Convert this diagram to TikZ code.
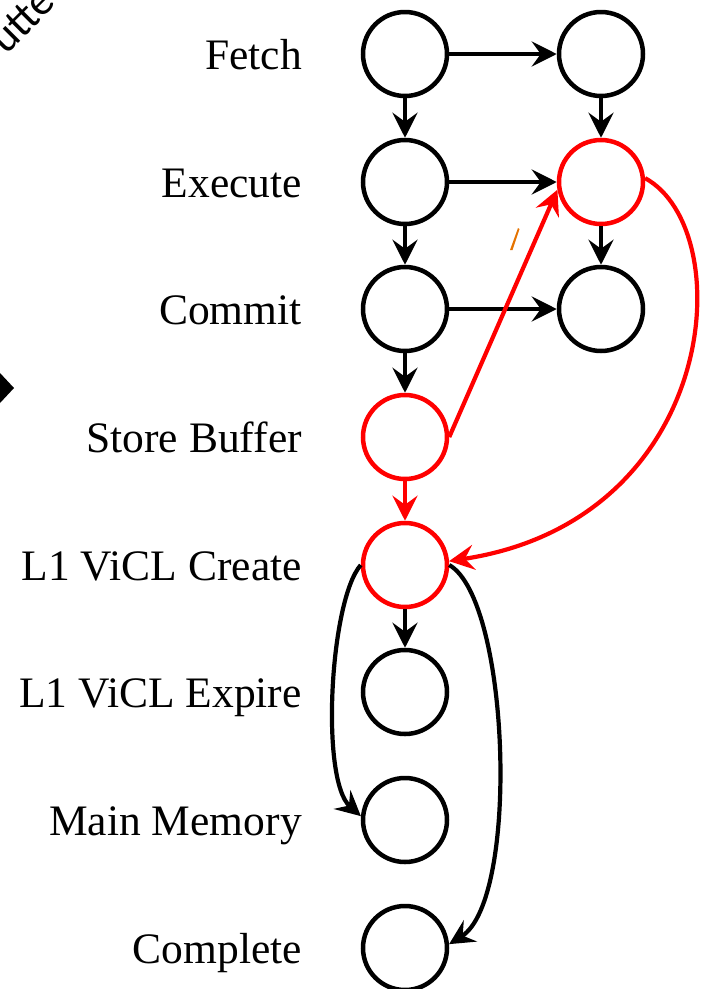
\documentclass[tikz,border=0pt]{standalone}
\usepackage{fontspec}
\setmainfont{Liberation Serif}
\newfontfamily\tagfont{Carlito}
\usetikzlibrary{arrows.meta}
\begin{document}
\begin{tikzpicture}[x=1pt,y=-1pt,
  state/.style={circle,draw,line width=4.5pt,minimum size=84pt,inner sep=0pt},
  hot/.style={draw=red},
  lbl/.style={anchor=base east,inner sep=0pt,font=\fontsize{43.5}{50}\selectfont},
  flow/.style={line width=4.2pt,-{Stealth[length=25pt,width=25pt,inset=9pt]}},
]
\useasboundingbox (0,0) rectangle (707,989);

% row labels
\node[lbl] (tF) at (302,69)  {Fetch};
\node[lbl] (tE) at (302,197) {Execute};
\node[lbl] (tC) at (302,324) {Commit};
\node[lbl] (tS) at (302,452) {Store Buffer};
\node[lbl] (tL) at (302,580) {L1 ViCL Create};
\node[lbl] (tX) at (302,707) {L1 ViCL Expire};
\node[lbl] (tM) at (302,835) {Main Memory};
\node[lbl] (tK) at (302,963) {Complete};

% left column
\node[state] (f1) at (405,54)  {};
\node[state] (e1) at (405,182) {};
\node[state] (c1) at (405,309) {};
\node[state,hot] (sb) at (405,437) {};
\node[state,hot] (lc) at (405,565) {};
\node[state] (lx) at (405,692) {};
\node[state] (mm) at (405,820) {};
\node[state] (ok) at (405,948) {};

% right column
\node[state] (f2) at (601,54)  {};
\node[state,hot] (e2) at (601,182) {};
\node[state] (c2) at (601,309) {};

% pipeline edges
\draw[flow] (f1) -- (f2);
\draw[flow] (e1) -- (e2);
\draw[flow] (c1) -- (c2);
\draw[flow] (f1) -- (e1);
\draw[flow] (e1) -- (c1);
\draw[flow] (c1) -- (sb);
\draw[flow] (f2) -- (e2);
\draw[flow] (e2) -- (c2);
\draw[flow] (lc) -- (lx);

% highlighted path
\draw[flow,red] (sb.east) -- (e2.190);
\draw[flow,red] (sb) -- (lc);
\draw[flow,red] (e2.5) .. controls (740,230) and (720,520) .. (lc.5);

% memory side paths
\draw[flow] (lc.west) .. controls (330,600) and (320,780) .. (mm.175);
\draw[flow] (lc.east) .. controls (510,600) and (520,900) .. (ok.5);

% clipped fragments at the edges
\node[font=\tagfont\fontsize{44}{50}\selectfont,rotate=45,inner sep=0pt] (tag) at (22,20) {utte};
\fill (14,388) -- (0,373) -- (-14,388) -- (0,403) -- cycle;
\fill[orange!90!black] (518,228) -- (519.5,229) -- (512.5,250) -- (510,250) -- cycle;
\end{tikzpicture}
\end{document}
